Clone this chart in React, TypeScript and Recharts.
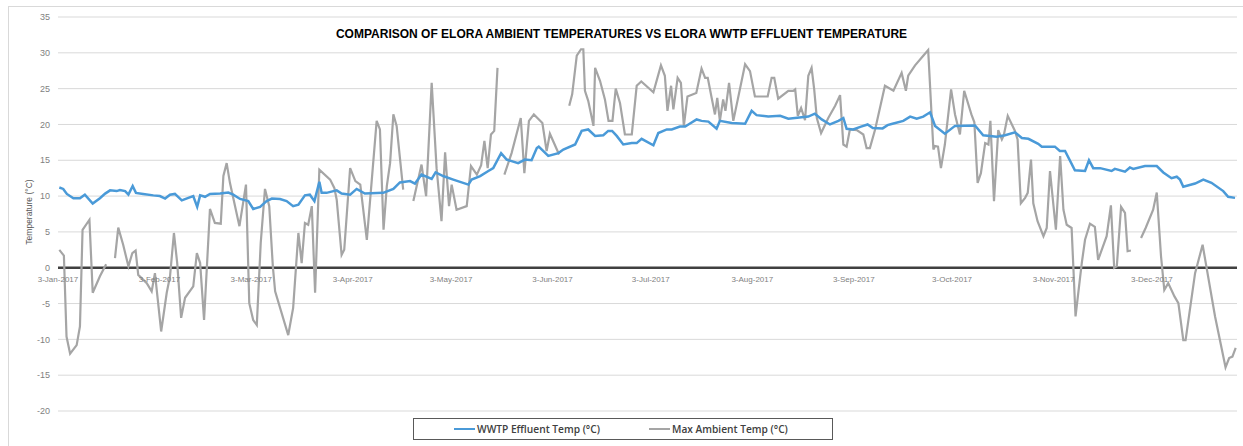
import { CartesianGrid, Line, LineChart, ReferenceLine, XAxis, YAxis } from 'recharts';

// Elora 2017 — day 0 = 3-Jan-2017
const CHART_W = 1243;
const CHART_H = 446;
const X_AXIS_H = 35;
const MARGIN = { top: 17, right: 6, bottom: 0, left: 18 };
const Y_AXIS_W = 40;
const Y_MIN = -20;
const Y_MAX = 35;

const FONT = '"Liberation Sans", Arial, sans-serif';

const yTicks = [-20, -15, -10, -5, 0, 5, 10, 15, 20, 25, 30, 35];
const monthTickDays = [0, 31, 59, 90, 120, 151, 181, 212, 243, 273, 304, 334];
const monthTickLabels = [
  '3-Jan-2017', '3-Feb-2017', '3-Mar-2017', '3-Apr-2017', '3-May-2017', '3-Jun-2017',
  '3-Jul-2017', '3-Aug-2017', '3-Sep-2017', '3-Oct-2017', '3-Nov-2017', '3-Dec-2017',
];

// [day, °C]
const effluentReadings: [number, number][] = [
  [0.4, 11.2], [1.6, 11.0], [2.7, 10.3], [4.7, 9.7], [6.7, 9.7], [8.2, 10.2], [10.6, 8.95],
  [12.8, 9.7], [14.4, 10.35], [15.9, 10.8], [17.9, 10.7], [18.9, 10.85], [20.5, 10.7], [21.5, 10.2],
  [22.8, 11.4], [23.8, 10.45], [26, 10.3], [29.1, 10.1], [31.1, 10.0], [32.7, 9.65], [34.2, 10.2],
  [35.7, 10.3], [37.8, 9.4], [39.8, 9.75], [41.3, 10.0], [42.5, 8.5], [43.4, 10.1], [44.9, 9.9],
  [46.4, 10.3], [49.5, 10.35], [52, 10.5], [53.5, 10.2], [55.6, 9.6], [58.1, 9.3], [59.6, 8.2],
  [61.7, 8.5], [63.7, 9.3], [65.3, 9.65], [67.8, 9.6], [69.8, 9.3], [71.8, 8.6], [73.4, 8.8],
  [75.4, 10.1], [76.9, 10.2], [78.3, 9.3], [79.8, 12.0], [80.5, 10.45], [82, 10.45], [85.1, 10.8],
  [86.6, 10.35], [89.2, 10.2], [91.2, 11.0], [93.7, 10.35], [99.3, 10.45], [102.4, 11.0],
  [104.4, 11.9], [107.5, 12.1], [109, 11.75], [111, 13.0], [114.1, 12.4], [115.3, 13.3],
  [117.6, 12.8], [120.7, 12.3], [125.3, 11.6], [126.3, 12.3], [128.9, 12.8], [131.4, 13.5],
  [132.9, 13.9], [135.3, 16.0], [137, 15.1], [140.5, 14.6], [142.6, 15.1], [144.6, 15.0],
  [146.2, 16.7], [146.8, 16.9], [149.7, 15.6], [152.8, 16.0], [154.3, 16.5], [157.9, 17.2],
  [159.9, 19.1], [161.9, 19.3], [164, 18.4], [166.5, 18.5], [168, 19.1], [169.2, 19.1],
  [170.6, 18.4], [172.6, 17.2], [175.2, 17.4], [176.7, 17.4], [178.2, 18.0], [181.8, 17.1],
  [183.3, 18.8], [185.9, 19.3], [187.4, 19.3], [189.9, 19.7], [191.5, 19.7], [192.5, 20.0],
  [195, 20.7], [196.5, 20.5], [198.6, 20.4], [201.1, 19.4], [202.1, 20.5], [205.7, 20.2],
  [209.8, 20.1], [211.8, 21.9], [213.3, 21.3], [216.9, 21.1], [220.5, 21.2], [223, 20.8],
  [229.1, 21.1], [231.1, 21.5], [233.2, 20.7], [235.7, 20.0], [238.3, 20.5], [239.8, 20.9],
  [240.8, 19.4], [242.8, 19.3], [245.2, 19.7], [247.2, 20.0], [248.8, 19.5], [251.8, 19.45],
  [253.3, 19.9], [254.8, 20.1], [258.1, 20.5], [260.2, 21.1], [262.2, 20.8], [264.2, 21.1],
  [266.3, 21.7], [267.8, 19.8], [270.8, 18.7], [273.9, 19.8], [280, 19.85], [282.5, 18.5],
  [286.6, 18.3], [289.2, 18.5], [292.2, 18.9], [294.3, 18.1], [296.3, 18.0], [299.3, 17.3],
  [300.4, 16.9], [304.4, 16.9], [305.9, 16.3], [307.5, 16.3], [310.5, 13.6], [313.6, 13.5],
  [314.8, 15.0], [316.1, 13.9], [318.2, 13.9], [321.7, 13.5], [322.7, 13.8], [325.8, 13.4],
  [327.3, 14.0], [328.3, 13.8], [331.9, 14.2], [335.5, 14.2], [337.5, 13.3], [340, 12.5],
  [341.6, 12.7], [342.6, 12.3], [343.6, 11.3], [347.2, 11.75], [349.7, 12.3], [352.2, 11.85],
  [355.8, 10.7], [357.3, 9.9], [359.4, 9.75],
];

// [day, °C] — null = missing reading (gap in the line)
const ambientReadings: [number, number | null][] = [
  [0.4, 2.5], [1.8, 1.7], [2.6, -9.6], [3.7, -12.0], [5.7, -10.8], [6.7, -8.2], [7.5, 5.3],
  [9.6, 6.7], [10.6, -3.5], [12.8, -1.2], [14.7, 0.5], [16, null],
  [17.4, 1.35], [18.4, 5.6], [19.9, 3.2], [21.5, 0.2], [22.7, 2.05], [23.7, 2.4], [24.5, -1.0],
  [27.1, -2.15], [28.6, -3.3], [29.6, -0.75], [31.5, -8.9], [33.2, -3.5], [34.2, -1.2],
  [35.4, 4.85], [36.4, 0.65], [37.6, -7.0], [38.8, -4.2], [41.3, -2.6], [42.4, 2.05],
  [43.4, 0.65], [44.6, -7.3], [46.4, 8.2], [47.9, 6.25], [49.7, 6.15], [50.5, 12.8],
  [51.5, 14.6], [52.5, 11.85], [55.4, 5.8], [57.4, 11.6], [58.4, -4.95], [59.6, -7.3],
  [60.7, -8.0], [61.9, 3.45], [63.2, 11.0], [64.5, 8.6], [65.6, 0.2], [66.3, -3.3],
  [70.3, -9.4], [71.8, -5.6], [73.4, 4.85], [74.4, 0.65], [75.4, 6.25], [76.4, 6.0],
  [77.5, 8.6], [78.5, -3.5], [79.8, 13.7], [83.1, 12.3], [84.4, 11.1], [85.1, 9.5],
  [86.6, 1.8], [87.4, 2.5], [89.2, 13.9], [90.8, 12.1], [92.3, 11.6], [94.3, 3.9],
  [97.3, 20.5], [98.3, 19.3], [99.4, 5.3], [100.4, 11.4], [101.4, 14.6], [102.4, 21.4],
  [103.4, 19.8], [105.4, 10.9], [107, null],
  [108.5, 9.3], [111, 14.4], [112.4, 10.0], [114.1, 25.8], [115.6, 13.9], [117.1, 6.5],
  [118.2, 16.1], [119.4, 8.6], [120.2, 11.6], [121.7, 8.1], [124.8, 8.6], [126.1, 14.2],
  [127.9, 13.0], [129.2, 14.3], [130.2, 17.7], [131.2, 13.9], [132.2, 18.6], [133.2, 19.1],
  [134.2, 27.9], [135.2, null],
  [136.3, 13.0], [138.5, 16.0], [141.3, 20.9], [142.4, 13.2], [143.8, 20.5], [145.3, 21.4],
  [147.9, 20.2], [149.2, 16.3], [150.2, 18.7], [153, 15.8], [154.5, null],
  [156.1, 22.6], [157, 24.2], [158.4, 29.6], [159.7, 30.5], [160.4, 30.5], [160.9, 24.7],
  [161.9, 23.3], [163.5, 19.8], [164, 27.9], [165.5, 26.1], [167, 23.5], [168.1, 20.5],
  [169.3, 20.5], [170.3, 25.0], [171.6, 23.0], [173.1, 18.6], [175.2, 18.6], [176.7, 25.4],
  [178.1, 26.0], [181.8, 24.5], [184.1, 28.25], [185.3, 26.8], [186.1, 21.9], [187.2, 25.4],
  [187.9, 22.1], [189.2, 26.5], [190.2, 25.8], [191.1, 19.8], [192.2, 23.9], [194.9, 24.4],
  [196.5, 27.8], [197.6, 26.5], [198.4, 26.5], [199.6, 23.7], [200.6, 21.4], [201.3, 23.7],
  [202.1, 20.5], [203.1, 23.5], [203.8, 21.9], [204.9, 25.8], [206.2, 20.5], [209.8, 28.4],
  [211.3, 27.45], [212.8, 23.9], [216.7, 23.9], [217.9, 26.5], [218.7, 26.5], [219.9, 23.6],
  [223, 24.7], [224.5, 24.7], [225.1, 24.9], [225.9, 21.2], [226.9, 22.3], [228.1, 20.6],
  [229.1, 26.8], [230.1, 27.9], [230.9, 24.9], [231.7, 20.9], [233, 18.8], [235.2, 20.9],
  [237.3, 22.6], [238.8, 24.1], [239.8, 17.2], [240.8, 16.9], [241.8, 19.3], [243.9, 19.2],
  [245.9, 18.6], [246.9, 16.7], [247.9, 16.7], [249.5, 19.3], [252.5, 25.4], [255.1, 24.7],
  [257.6, 27.2], [258.9, 24.7], [259.6, 26.8], [261.7, 28.25], [264.2, 29.6], [265.7, 30.4],
  [267.3, 16.5], [267.8, 17.0], [268.7, 16.9], [269.6, 13.9], [270.8, 17.2], [272.7, 24.9],
  [273.9, 21.4], [275.4, 18.6], [276.7, 24.7], [278.9, 21.4], [279.8, 20.3], [280.8, 11.85],
  [281.8, 13.2], [283.1, 17.4], [284.1, 17.2], [284.7, 20.5], [285.8, 9.3], [287.1, 19.2],
  [288.2, 17.9], [288.8, 18.5], [290, 21.2], [292.2, 19.1], [293, 17.9], [294, 9.0],
  [295.3, 9.75], [296.1, 10.45], [297.1, 15.1], [297.8, 9.0], [299.1, 6.5], [300.9, 4.4],
  [301.9, 5.55], [302.9, 13.5], [304.7, 5.3], [306, 15.6], [307, 8.1], [308, 6.0],
  [309.5, 5.55], [310.7, -6.8], [312.6, 0.65], [313.6, 3.9], [315.1, 6.15], [316.6, 5.7],
  [317.6, 1.1], [320.2, 4.4], [321.5, 8.7], [322.5, 0], [323.3, 0.2], [324.6, 8.5],
  [325.8, 7.65], [326.6, 2.3], [327.6, 2.4], [329, null],
  [330.7, 4.15], [332.1, 5.55], [334.4, 8.1], [335.5, 10.5], [336.8, 1.6], [337.8, -3.1],
  [339, -2.15], [340.9, -4.0], [342.1, -4.95], [343.6, -10.1], [344.3, -10.1], [347.2, -0.75],
  [349.5, 3.2], [353.3, -6.8], [356.5, -13.9], [357.6, -12.6], [358.6, -12.4], [359.6, -11.2],
];

const effluent = effluentReadings.map(([day, temp]) => ({ day, temp }));
const ambient = ambientReadings.map(([day, temp]) => ({ day, temp }));

const PLOT_H = CHART_H - MARGIN.top - MARGIN.bottom - X_AXIS_H;
const ZERO_Y = MARGIN.top + ((Y_MAX - 0) / (Y_MAX - Y_MIN)) * PLOT_H;

// Excel puts the date labels against the 0 line, not at the bottom of the plot
const renderDateTick = (props: any) => {
  const { x, payload } = props;
  const i = monthTickDays.indexOf(payload?.value);
  return (
    <text x={x} y={ZERO_Y + 14.5} textAnchor="middle" fontSize={8} fill="#7f7f7f" fontFamily={FONT}>
      {i >= 0 ? monthTickLabels[i] : ''}
    </text>
  );
};

const renderYTitle = (props: any) => {
  const vb = props.viewBox;
  if (!vb) return null;
  const cx = 29;
  const cy = vb.y + vb.height / 2 - 2;
  return (
    <text
      x={cx}
      y={cy}
      transform={`rotate(-90 ${cx} ${cy})`}
      textAnchor="middle"
      dominantBaseline="central"
      fontSize={8.5}
      fill="#595959"
      fontFamily={FONT}
    >
      Temperature (°C)
    </text>
  );
};

export default function App() {
  return (
    <div style={{ position: 'absolute', left: 0, top: 0, width: CHART_W, height: CHART_H, background: '#fff', overflow: 'hidden' }}>
      {/* chart area frame */}
      <div style={{ position: 'absolute', left: 8, top: 6, width: 1240, height: 450, border: '1px solid #d9d9d9', boxSizing: 'border-box' }} />

      <div
        style={{
          position: 'absolute', left: 0, top: 27, width: CHART_W, textAlign: 'center',
          fontFamily: FONT, fontWeight: 700, fontSize: 12, lineHeight: '14px', color: '#000',
        }}
      >
        COMPARISON OF ELORA AMBIENT TEMPERATURES VS ELORA WWTP EFFLUENT TEMPERATURE
      </div>

      <div style={{ position: 'absolute', left: 0, top: 0 }}>
        <LineChart width={CHART_W} height={CHART_H} margin={MARGIN}>
          <CartesianGrid vertical={false} stroke="#d9d9d9" strokeWidth={1} />
          <XAxis
            dataKey="day"
            type="number"
            domain={[0, 360]}
            allowDataOverflow
            ticks={monthTickDays}
            interval={0}
            height={X_AXIS_H}
            axisLine={false}
            tickLine={false}
            tick={renderDateTick}
          />
          <YAxis
            type="number"
            domain={[Y_MIN, Y_MAX]}
            ticks={yTicks}
            interval={0}
            width={Y_AXIS_W}
            axisLine={false}
            tickLine={false}
            tickMargin={2}
            tick={{ fontSize: 9, fill: '#7f7f7f', fontFamily: FONT }}
            label={{ content: renderYTitle }}
          />
          <ReferenceLine y={0} stroke="#404040" strokeWidth={2.5} />
          <Line
            data={ambient}
            dataKey="temp"
            type="linear"
            stroke="#a5a5a5"
            strokeWidth={2.2}
            dot={false}
            activeDot={false}
            isAnimationActive={false}
          />
          <Line
            data={effluent}
            dataKey="temp"
            type="linear"
            stroke="#4a9ad8"
            strokeWidth={2.5}
            dot={false}
            activeDot={false}
            isAnimationActive={false}
          />
        </LineChart>
      </div>

      {/* legend */}
      <div
        style={{
          position: 'absolute', left: 413, top: 418, width: 420, height: 22, boxSizing: 'border-box',
          border: '1px solid #595959', fontFamily: '"Open Sans", sans-serif', fontWeight: 600,
          fontSize: 10.2, color: '#404040', lineHeight: '20px', whiteSpace: 'nowrap',
        }}
      >
        <span style={{ position: 'absolute', left: 40, top: 9, width: 21, height: 2, background: '#4a9ad8' }} />
        <span style={{ position: 'absolute', left: 63, top: 0 }}>WWTP Effluent Temp (°C)</span>
        <span style={{ position: 'absolute', left: 235, top: 9, width: 21, height: 2, background: '#a5a5a5' }} />
        <span style={{ position: 'absolute', left: 258, top: 0 }}>Max Ambient Temp (°C)</span>
      </div>
    </div>
  );
}
